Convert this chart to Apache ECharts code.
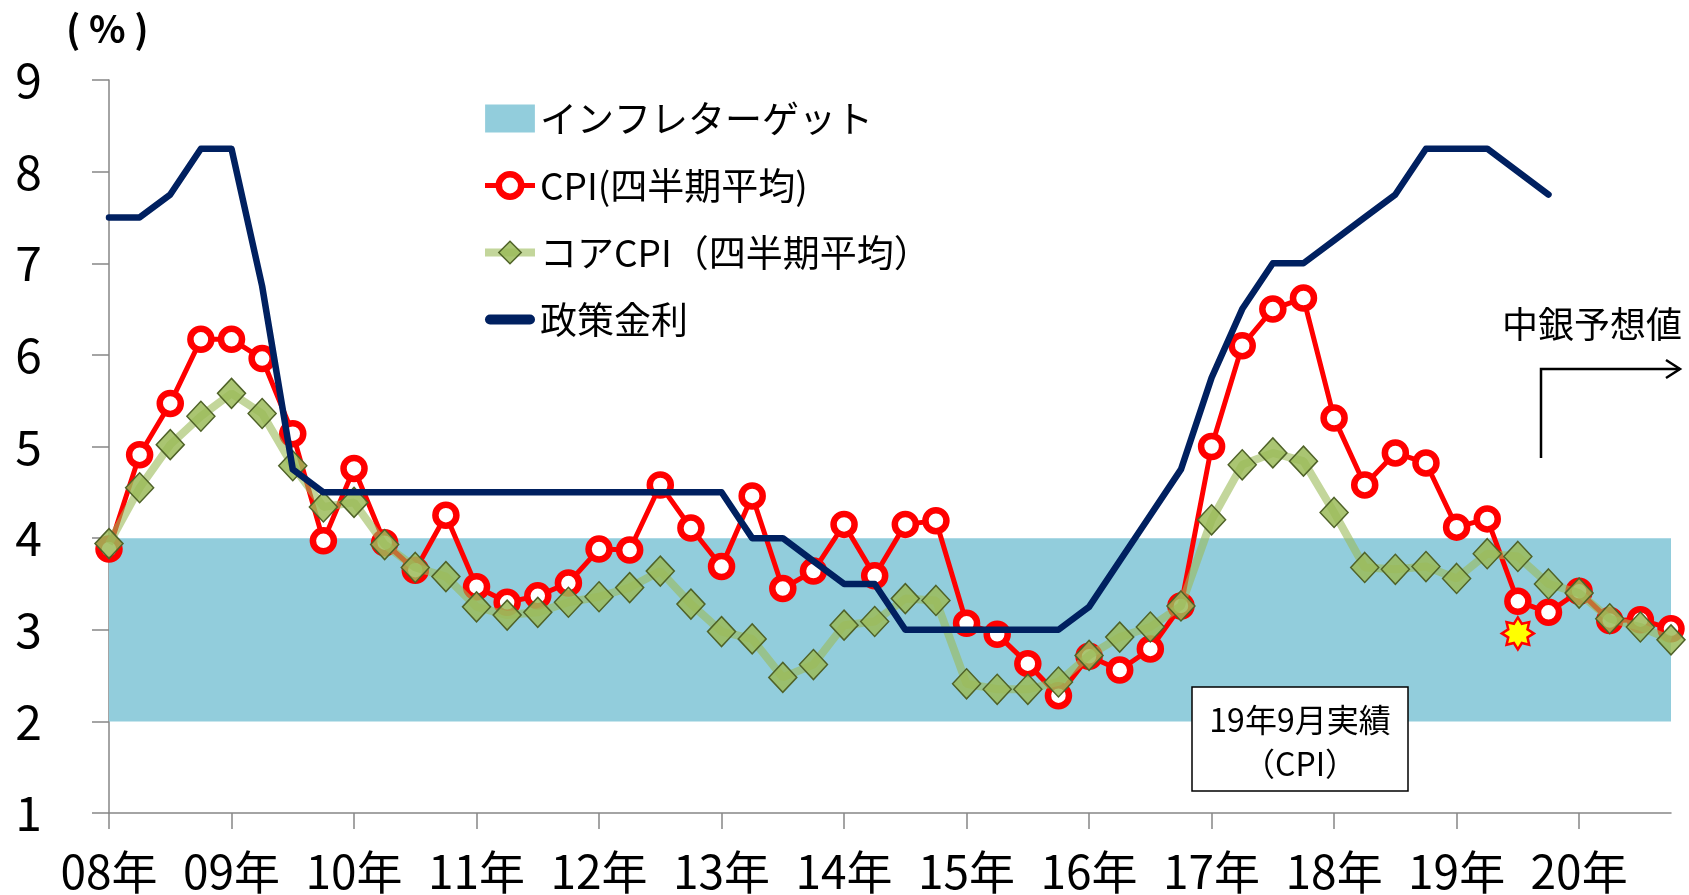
<!DOCTYPE html>
<html>
<head>
<meta charset="utf-8">
<title>CPI・政策金利</title>
<script src="https://cdn.jsdelivr.net/npm/echarts@6/dist/echarts.min.js"></script>
<style>
  html, body { margin: 0; padding: 0; background: #ffffff; }
  #main { width: 1689px; height: 895px; }
</style>
</head>
<body>
<div id="main"></div>
<script>
// 四半期データ 08Q1 - 20Q4
let years = ['08', '09', '10', '11', '12', '13', '14', '15', '16', '17', '18', '19', '20'];
let quarters = [];
years.forEach(function (y) {
  for (let q = 1; q <= 4; q++) quarters.push(y + 'Q' + q);
});

let cpi = [
  3.88, 4.91, 5.47, 6.17, 6.17, 5.96, 5.14, 3.97,
  4.76, 3.95, 3.65, 4.25, 3.47, 3.30, 3.37, 3.51,
  3.88, 3.87, 4.58, 4.11, 3.69, 4.46, 3.45, 3.64,
  4.15, 3.59, 4.15, 4.19, 3.07, 2.95, 2.63, 2.28,
  2.71, 2.56, 2.79, 3.26, 5.00, 6.10, 6.50, 6.62,
  5.31, 4.58, 4.93, 4.82, 4.12, 4.21, 3.31, 3.19,
  3.42, 3.10, 3.11, 3.01
];

let coreCpi = [
  3.94, 4.55, 5.02, 5.33, 5.58, 5.36, 4.79, 4.34,
  4.39, 3.93, 3.68, 3.58, 3.25, 3.16, 3.19, 3.30,
  3.36, 3.46, 3.64, 3.28, 2.98, 2.90, 2.48, 2.62,
  3.05, 3.09, 3.34, 3.32, 2.41, 2.35, 2.35, 2.43,
  2.72, 2.92, 3.03, 3.26, 4.20, 4.80, 4.93, 4.84,
  4.28, 3.68, 3.66, 3.69, 3.56, 3.83, 3.80, 3.50,
  3.40, 3.12, 3.03, 2.89
];

let policyRate = [
  7.5, 7.5, 7.75, 8.25, 8.25, 6.75, 4.75, 4.5,
  4.5, 4.5, 4.5, 4.5, 4.5, 4.5, 4.5, 4.5,
  4.5, 4.5, 4.5, 4.5, 4.5, 4.0, 4.0, 3.75,
  3.5, 3.5, 3.0, 3.0, 3.0, 3.0, 3.0, 3.0,
  3.25, 3.75, 4.25, 4.75, 5.75, 6.5, 7.0, 7.0,
  7.25, 7.5, 7.75, 8.25, 8.25, 8.25, 8.0, 7.75,
  null, null, null, null
];

// インフレターゲット（2〜4%）
let targetLow = 2;
let targetHigh = 4;

// 19年9月実績（CPI）
let actualQuarter = '19Q3';
let actualCpi = 2.96;

let yTicks = { min: 1, max: 9, interval: 1 };

const FONT = '"Noto Sans CJK JP", "Noto Sans", sans-serif';

// 星形マーカー
function starPath(points, outer, inner) {
  let parts = [];
  for (let i = 0; i < points * 2; i++) {
    let a = -Math.PI / 2 + i * Math.PI / points;
    let r = i % 2 === 0 ? outer : inner;
    parts.push((r * Math.cos(a) + outer).toFixed(2) + ' ' + (r * Math.sin(a) + outer).toFixed(2));
  }
  return 'path://M' + parts.join(' L') + ' Z';
}

let chart = echarts.init(document.getElementById('main'), null, { renderer: 'canvas' });

let option = {
  animation: false,
  backgroundColor: '#ffffff',
  textStyle: { fontFamily: FONT },
  grid: {
    left: 109,
    right: 18,
    top: 80,
    bottom: 82
  },
  legend: {
    orient: 'vertical',
    left: 476,
    top: 95,
    itemWidth: 50,
    itemHeight: 28,
    itemGap: 30,
    symbolKeepAspect: true,
    lineStyle: { width: 'inherit' },
    itemStyle: { borderWidth: 'inherit' },
    textStyle: { fontFamily: FONT, fontSize: 37, color: '#000000', lineHeight: 36 },
    data: [
      { name: 'インフレターゲット', icon: 'path://M0 0 H48 V27 H0 Z' },
      'CPI(四半期平均)',
      'コアCPI（四半期平均）',
      { name: '政策金利', icon: 'path://M5 0 H45 A5 5 0 0 1 45 10 H5 A5 5 0 0 1 5 0 Z' }
    ]
  },
  xAxis: {
    type: 'category',
    data: quarters,
    boundaryGap: false,
    axisLine: { lineStyle: { color: '#868686', width: 1.5 } },
    axisTick: { interval: 3, length: 16, lineStyle: { color: '#868686', width: 1.5 } },
    axisLabel: {
      interval: 3,
      margin: 36,
      fontSize: 46,
      color: '#000000',
      fontFamily: FONT,
      formatter: function (v) { return v.slice(0, 2) + '年'; }
    },
    splitLine: { show: false }
  },
  yAxis: {
    type: 'value',
    min: yTicks.min,
    max: yTicks.max,
    interval: yTicks.interval,
    axisLine: { show: true, lineStyle: { color: '#868686', width: 1.5 } },
    axisTick: { show: true, length: 17, lineStyle: { color: '#868686', width: 1.5 } },
    axisLabel: { margin: 67, fontSize: 48, color: '#000000', fontFamily: FONT },
    splitLine: { show: false }
  },
  series: [
    {
      name: 'インフレターゲット',
      type: 'line',
      data: [],
      z: 1,
      itemStyle: { color: '#92cddc' },
      lineStyle: { color: '#92cddc' },
      markArea: {
        silent: true,
        itemStyle: { color: '#92cddc', opacity: 1 },
        data: [[
          { xAxis: quarters[0], yAxis: targetLow },
          { xAxis: quarters[quarters.length - 1], yAxis: targetHigh }
        ]]
      }
    },
    {
      name: 'CPI(四半期平均)',
      type: 'line',
      data: cpi,
      z: 2,
      symbol: 'circle',
      symbolSize: 21,
      showAllSymbol: true,
      lineStyle: { color: '#ff0000', width: 5 },
      itemStyle: { color: '#ffffff', borderColor: '#ff0000', borderWidth: 6.5 }
    },
    {
      name: 'コアCPI（四半期平均）',
      type: 'line',
      data: coreCpi,
      z: 3,
      symbol: 'diamond',
      symbolSize: [28, 30],
      showAllSymbol: true,
      lineStyle: { color: 'rgba(155,187,89,0.6)', width: 8 },
      itemStyle: { color: 'rgba(155,187,89,0.85)', borderColor: '#4f6228', borderWidth: 1.5 }
    },
    {
      name: '政策金利',
      type: 'line',
      data: policyRate,
      z: 4,
      symbol: 'none',
      lineStyle: { color: '#002060', width: 6.5, join: 'round', cap: 'round' },
      itemStyle: { color: '#002060' }
    },
    {
      name: '19年9月実績',
      type: 'scatter',
      data: [[actualQuarter, actualCpi]],
      z: 5,
      symbol: starPath(8, 10, 6.5),
      symbolSize: 32,
      itemStyle: { color: '#ffff00', borderColor: '#ff0000', borderWidth: 2.5, opacity: 1 }
    }
  ],
  graphic: [
    {
      type: 'text',
      left: 66,
      top: 10,
      style: { text: '( % )', fontFamily: FONT, fontSize: 38, fontWeight: 'bold', fill: '#000000' }
    },
    {
      type: 'text',
      left: 1502,
      top: 306,
      style: { text: '中銀予想値', fontFamily: FONT, fontSize: 36, fill: '#000000' }
    },
    {
      type: 'polyline',
      shape: { points: [[1541, 458], [1541, 369], [1680, 369]] },
      style: { stroke: '#000000', lineWidth: 2.5, fill: null }
    },
    {
      type: 'polyline',
      shape: { points: [[1666, 360], [1680, 369], [1666, 378]] },
      style: { stroke: '#000000', lineWidth: 2.5, fill: null }
    },
    {
      type: 'polyline',
      shape: { points: [[1426, 700], [1480, 683], [1504, 654]] },
      style: { stroke: '#000000', lineWidth: 2, fill: null }
    },
    {
      type: 'rect',
      shape: { x: 1192, y: 687, width: 216, height: 104 },
      style: { fill: '#ffffff', stroke: '#000000', lineWidth: 1.5 },
      z: 10
    },
    {
      type: 'text',
      x: 1300,
      y: 720,
      z: 11,
      style: { text: '19年9月実績', fontFamily: FONT, fontSize: 32, fill: '#000000', align: 'center', verticalAlign: 'middle' }
    },
    {
      type: 'text',
      x: 1300,
      y: 764,
      z: 11,
      style: { text: '（CPI）', fontFamily: FONT, fontSize: 32, fill: '#000000', align: 'center', verticalAlign: 'middle' }
    }
  ]
};

chart.setOption(option);
</script>
</body>
</html>
